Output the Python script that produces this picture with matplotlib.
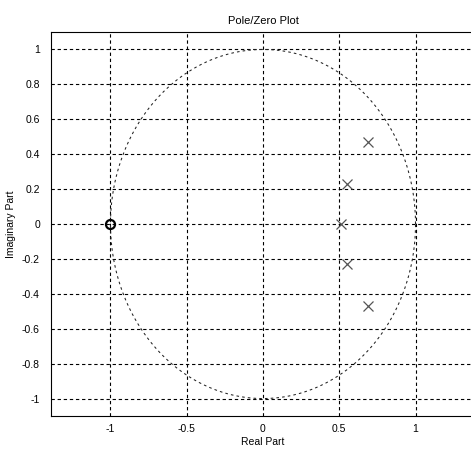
import numpy as np
import matplotlib
matplotlib.use("Agg")
from matplotlib import pyplot as plt

plt.rcParams['font.family'] = ['Liberation Sans', 'DejaVu Sans']

# poles and zeros
pole_re = [0.69, 0.55, 0.51, 0.55, 0.69]
pole_im = [0.47, 0.23, 0.0, -0.23, -0.47]
zero_re = [-1.0]
zero_im = [0.0]

xticks = [-1, -0.5, 0, 0.5, 1]
yticks = [-1, -0.8, -0.6, -0.4, -0.2, 0, 0.2, 0.4, 0.6, 0.8, 1]

fig = plt.figure(figsize=(4.71, 4.49), dpi=100)
ax = fig.add_axes([51/471, 1 - 416/449, 424/471, 384/449])

t = np.linspace(0, 2*np.pi, 400)
ax.plot(np.cos(t), np.sin(t), color='#222222', linestyle=(0, (2.5, 3)), linewidth=0.75)

ax.plot(pole_re, pole_im, 'x', color='#555555', markersize=7, markeredgewidth=0.9)
ax.plot(zero_re, zero_im, 'o', color='black', markerfacecolor='none', markersize=6.5, markeredgewidth=1.6)

ax.set_xlim(-1.39, 1.39)
ax.set_ylim(-1.1, 1.1)
ax.set_xticks(xticks)
ax.set_xticklabels(['-1', '-0.5', '0', '0.5', '1'])
ax.set_yticks(yticks)
ax.set_yticklabels(['-1', '-0.8', '-0.6', '-0.4', '-0.2', '0', '0.2', '0.4', '0.6', '0.8', '1'])
ax.grid(True, color='black', linestyle=(0, (3, 2.5)), linewidth=0.8)
ax.tick_params(axis='y', direction='in', length=0, labelsize=7.5, pad=8)
ax.tick_params(axis='x', direction='in', length=0, labelsize=7.5, pad=6)
for s in ax.spines.values():
    s.set_linewidth(0.8)

ax.set_title('Pole/Zero Plot', fontsize=8, pad=6)
ax.set_xlabel('Real Part', fontsize=7.5, labelpad=2)
ax.set_ylabel('Imaginary Part', fontsize=7.5, labelpad=4)

fig.savefig('out.png', dpi=100)
